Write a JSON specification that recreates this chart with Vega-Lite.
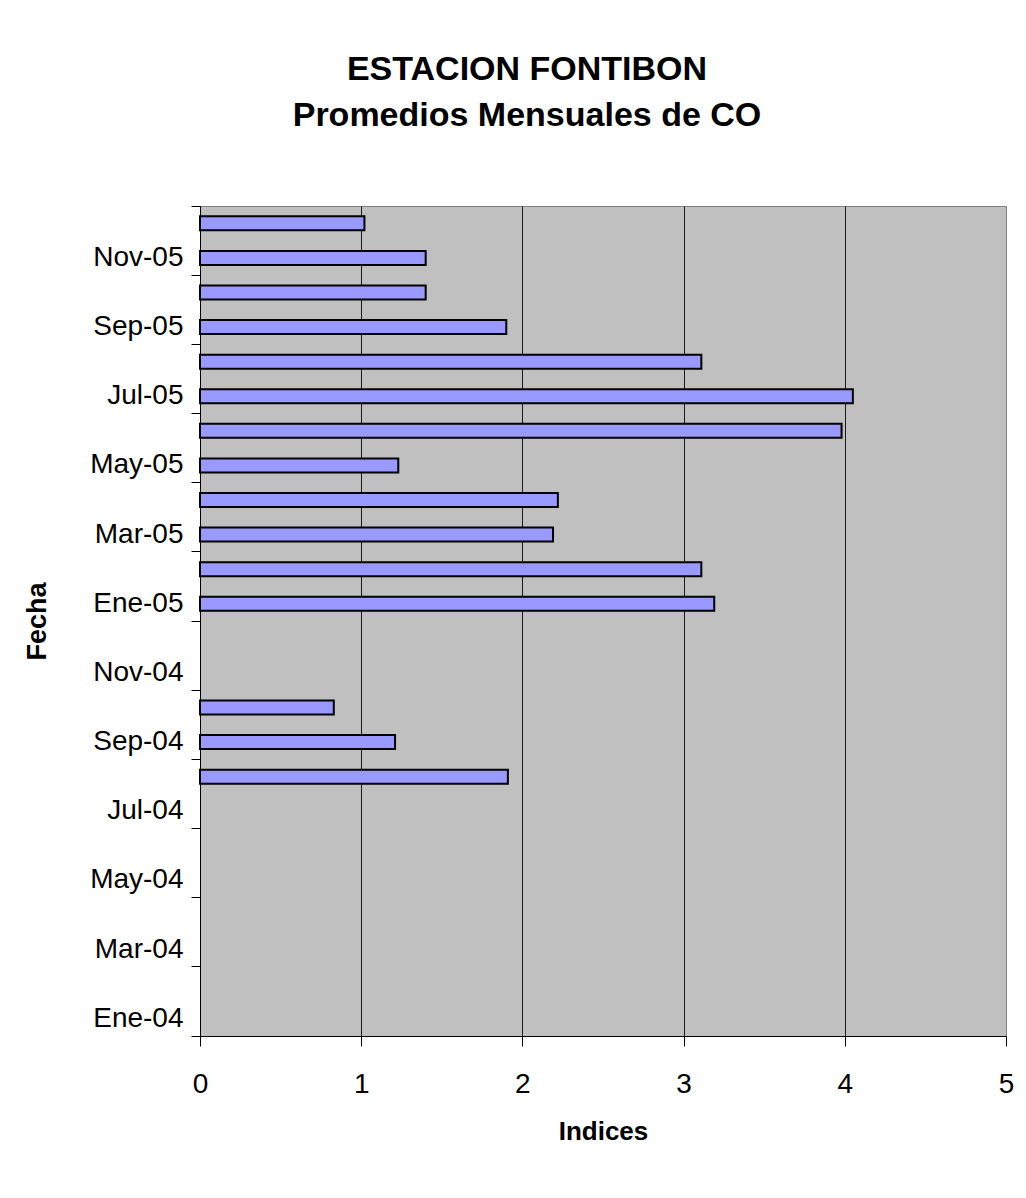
{
  "$schema": "https://vega.github.io/schema/vega-lite/v6.json",
  "width": 806,
  "height": 830,
  "autosize": "none",
  "padding": {"left": 200, "top": 206, "right": 20, "bottom": 162},
  "background": "white",
  "title": {
    "text": ["ESTACION FONTIBON", "Promedios Mensuales de CO"],
    "font": "Liberation Sans",
    "fontSize": 34,
    "fontWeight": "bold",
    "color": "black",
    "anchor": "middle",
    "frame": "group",
    "dx": -76,
    "baseline": "top",
    "offset": 73,
    "lineHeight": 46
  },
  "data": {
    "values": [
      {"fecha": "Dic-05", "indice": 1.02},
      {"fecha": "Nov-05", "indice": 1.40},
      {"fecha": "Oct-05", "indice": 1.40},
      {"fecha": "Sep-05", "indice": 1.90},
      {"fecha": "Ago-05", "indice": 3.11},
      {"fecha": "Jul-05", "indice": 4.05},
      {"fecha": "Jun-05", "indice": 3.98},
      {"fecha": "May-05", "indice": 1.23},
      {"fecha": "Abr-05", "indice": 2.22},
      {"fecha": "Mar-05", "indice": 2.19},
      {"fecha": "Feb-05", "indice": 3.11},
      {"fecha": "Ene-05", "indice": 3.19},
      {"fecha": "Oct-04", "indice": 0.83},
      {"fecha": "Sep-04", "indice": 1.21},
      {"fecha": "Ago-04", "indice": 1.91}
    ]
  },
  "layer": [
    {
      "mark": {"type": "bar", "fill": "#9999FF", "stroke": "black", "strokeWidth": 2, "size": 14},
      "encoding": {
        "y": {
          "field": "fecha",
          "type": "nominal",
          "scale": {
            "domain": ["Dic-05", "Nov-05", "Oct-05", "Sep-05", "Ago-05", "Jul-05", "Jun-05", "May-05", "Abr-05", "Mar-05", "Feb-05", "Ene-05",
                       "Dic-04", "Nov-04", "Oct-04", "Sep-04", "Ago-04", "Jul-04", "Jun-04", "May-04", "Abr-04", "Mar-04", "Feb-04", "Ene-04"],
            "paddingInner": 0,
            "paddingOuter": 0
          },
          "axis": {
            "orient": "left",
            "values": ["Nov-05", "Sep-05", "Jul-05", "May-05", "Mar-05", "Ene-05", "Nov-04", "Sep-04", "Jul-04", "May-04", "Mar-04", "Ene-04"],
            "bandPosition": 1,
            "labelFont": "Liberation Sans",
            "labelFontSize": 28,
            "labelColor": "black",
            "labelPadding": 8,
            "labelAlign": "right",
            "labelBaseline": "middle",
            "tickSize": 9,
            "tickColor": "black",
            "domainColor": "black",
            "grid": false,
            "title": "Fecha",
            "titleFont": "Liberation Sans",
            "titleFontSize": 27,
            "titleFontWeight": "bold",
            "titleColor": "black",
            "titlePadding": 38
          }
        },
        "x": {
          "field": "indice",
          "type": "quantitative",
          "scale": {"domain": [0, 5], "nice": false},
          "axis": {
            "values": [0, 1, 2, 3, 4, 5],
            "format": "d",
            "grid": true,
            "gridColor": {"condition": {"test": "datum.value === 5", "value": "#808080"}, "value": "#1a1a1a"},
            "gridWidth": 1,
            "tickSize": 10,
            "tickColor": "black",
            "domainColor": "black",
            "labelFont": "Liberation Sans",
            "labelFontSize": 28,
            "labelColor": "black",
            "labelPadding": 24,
            "labelFlush": false,
            "labelAlign": "center",
            "title": "Indices",
            "titleFont": "Liberation Sans",
            "titleFontSize": 26,
            "titleFontWeight": "bold",
            "titleColor": "black",
            "titlePadding": 20
          }
        }
      }
    },
    {
      "mark": {"type": "bar", "opacity": 0, "size": 14},
      "encoding": {
        "y": {
          "field": "fecha",
          "type": "nominal",
          "axis": {
            "orient": "left",
            "values": ["Dic-05"],
            "bandPosition": 0,
            "labels": false,
            "domain": false,
            "grid": false,
            "title": null,
            "tickSize": 9,
            "tickColor": "black"
          }
        },
        "x": {"field": "indice", "type": "quantitative"}
      }
    }
  ],
  "resolve": {"axis": {"y": "independent"}},
  "config": {
    "view": {"fill": "#C0C0C0", "stroke": "#808080", "strokeWidth": 1}
  }
}
